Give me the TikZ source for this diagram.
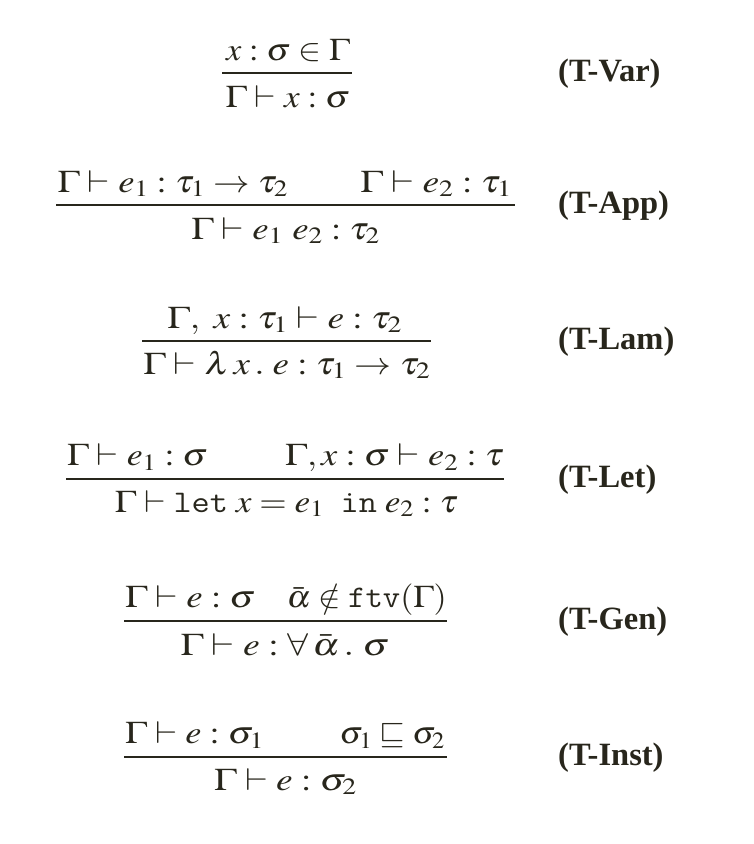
\documentclass[tikz,border=0pt]{standalone}
\usepackage{mathptmx}
\usepackage[no-math]{fontspec}
\setmainfont{Liberation Serif}
\definecolor{ink}{RGB}{40,38,28}
\newcommand{\jwide}[2]{\scalebox{#1}[1]{$#2$}}
\tikzset{
  judg/.style={inner sep=0pt, text=ink, font=\fontsize{31.5}{37}\selectfont},
  rulename/.style={inner sep=0pt, anchor=base west, text=ink, font=\fontsize{32.5}{39}\selectfont\bfseries},
  infline/.style={draw=ink, line width=2pt}
}
\begin{document}
\begin{tikzpicture}[x=1pt,y=-1pt]
\useasboundingbox (0,0) rectangle (754,844);
\fill[white] (0,0) rectangle (754,844);
% T-Var
\node[judg, anchor=base] (varP) at (288,60) {\jwide{1.092}{x : \sigma \in \Gamma}};
\coordinate (varL) at (222,73); \coordinate (varR) at (352,73);
\draw[infline] (varL) -- (varR);
\node[judg, anchor=base] (varC) at (288,107) {\jwide{1.117}{\Gamma \vdash x : \sigma}};
\node[rulename] (varN) at (558,81) {(T-Var)};
% T-App
\node[judg, anchor=base west] (appP1) at (57.5,192) {\jwide{1.16}{\Gamma \vdash e_1 : \tau_1 \to \tau_2}};
\node[judg, anchor=base east] (appP2) at (512,192) {\jwide{1.192}{\Gamma \vdash e_2 : \tau_1}};
\coordinate (appL) at (56,204.5); \coordinate (appR) at (515,204.5);
\draw[infline] (appL) -- (appR);
\node[judg, anchor=base] (appC) at (285.6,239) {\jwide{1.17}{\Gamma \vdash e_1\ e_2 : \tau_2}};
\node[rulename] (appN) at (558,213) {(T-App)};
% T-Lam
\node[judg, anchor=base] (lamP) at (284.6,328) {\jwide{1.186}{\Gamma,\ x : \tau_1 \vdash e : \tau_2}};
\coordinate (lamL) at (142,341); \coordinate (lamR) at (431,341);
\draw[infline] (lamL) -- (lamR);
\node[judg, anchor=base] (lamC) at (286.8,374) {\jwide{1.174}{\Gamma \vdash \lambda\, x\,.\; e : \tau_1 \to \tau_2}};
\node[rulename] (lamN) at (558,349) {(T-Lam)};
% T-Let
\node[judg, anchor=base west] (letP1) at (67,465.5) {\jwide{1.14}{\Gamma \vdash e_1 : \sigma}};
\node[judg, anchor=base east] (letP2) at (504,465.5) {\jwide{1.157}{\Gamma, x : \sigma \vdash e_2 : \tau}};
\coordinate (letL) at (66,478.5); \coordinate (letR) at (504,478.5);
\draw[infline] (letL) -- (letR);
\node[judg, anchor=base] (letC) at (286.5,512) {\jwide{1.12}{\Gamma \vdash \texttt{let}\;x = e_1\ \;\texttt{in}\;e_2 : \tau}};
\node[rulename] (letN) at (558,487) {(T-Let)};
% T-Gen
\node[judg, anchor=base west] (genP1) at (125,607.5) {\jwide{1.172}{\Gamma \vdash e : \sigma}};
\node[judg, anchor=base east] (genP2) at (447,607.5) {\jwide{1.07}{\bar{\alpha} \notin \texttt{ftv}(\Gamma)}};
\coordinate (genL) at (124,620.5); \coordinate (genR) at (447,620.5);
\draw[infline] (genL) -- (genR);
\node[judg, anchor=base] (genC) at (285,655) {\jwide{1.2}{\Gamma \vdash e : \forall\,\bar{\alpha}\,.\;\sigma}};
\node[rulename] (genN) at (558,629) {(T-Gen)};
% T-Inst
\node[judg, anchor=base west] (instP1) at (125,743.5) {\jwide{1.154}{\Gamma \vdash e : \sigma_1}};
\node[judg, anchor=base east] (instP2) at (445,743.5) {\jwide{1.043}{\sigma_1 \sqsubseteq \sigma_2}};
\coordinate (instL) at (124,756.5); \coordinate (instR) at (447,756.5);
\draw[infline] (instL) -- (instR);
\node[judg, anchor=base] (instC) at (285.5,790) {\jwide{1.188}{\Gamma \vdash e : \sigma_2}};
\node[rulename] (instN) at (558,765) {(T-Inst)};
\end{tikzpicture}
\end{document}
